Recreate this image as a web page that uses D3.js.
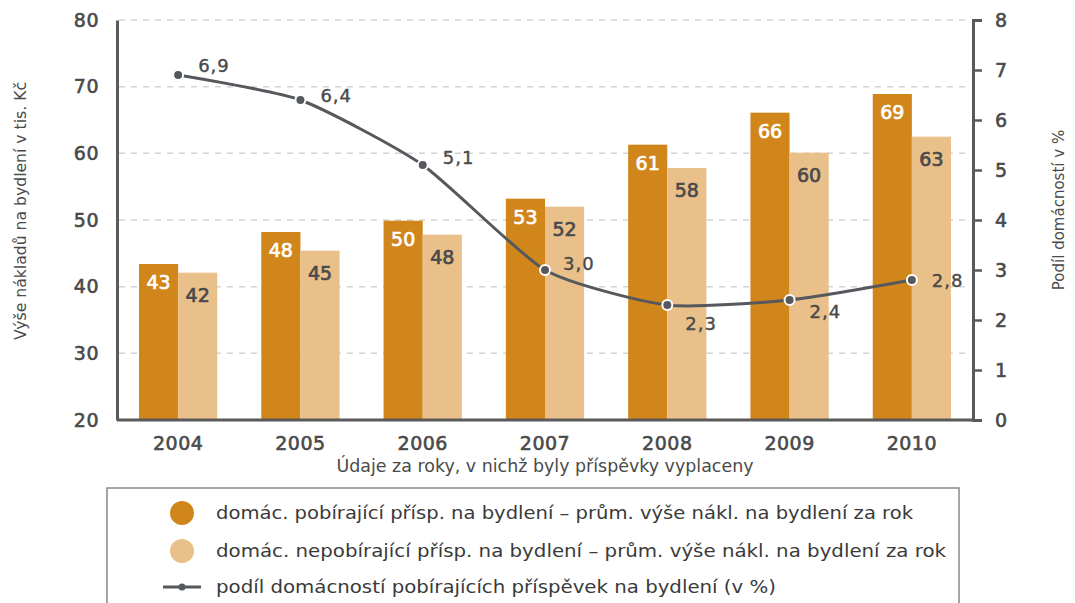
<!DOCTYPE html>
<html>
<head>
<meta charset="utf-8">
<script src="https://cdn.jsdelivr.net/npm/d3@7"></script>
<style>
  body { margin: 0; background: #fff; }
  svg { font-family: "DejaVu Sans", sans-serif; }
</style>
</head>
<body>
<div id="chart"></div>
<script>
// data
var years = ["2004", "2005", "2006", "2007", "2008", "2009", "2010"];
var pobirajici = [43.4, 48.2, 49.9, 53.2, 61.3, 66.1, 68.9];
var nepobirajici = [42.1, 45.4, 47.8, 52.0, 57.8, 60.1, 62.5];
var podil = [6.9, 6.4, 5.1, 3.0, 2.3, 2.4, 2.8];
var podilLabels = ["6,9", "6,4", "5,1", "3,0", "2,3", "2,4", "2,8"];
var leftTicks = [20, 30, 40, 50, 60, 70, 80];
var rightTicks = [0, 1, 2, 3, 4, 5, 6, 7, 8];
var legendItems = [
    "domác. pobírající přísp. na bydlení – prům. výše nákl. na bydlení za rok",
    "domác. nepobírající přísp. na bydlení – prům. výše nákl. na bydlení za rok",
    "podíl domácností pobírajících příspěvek na bydlení (v %)"
];

var W = 1075, H = 603;
var plot = {left: 117, right: 973, top: 20, bottom: 420};
var darkCol = "#d0861b", lightCol = "#e9c08a", lineCol = "#55585c", axisCol = "#5a5a5a";
var textCol = "#4a4a4a";

var svg = d3.select("#chart").append("svg")
    .attr("width", W).attr("height", H);

var x = d3.scaleBand().domain(years).range([plot.left, plot.right]).paddingInner(0.36).paddingOuter(0.18);
var xs = d3.scaleBand().domain(["a", "b"]).range([0, x.bandwidth()]);
var yL = d3.scaleLinear().domain([20, 80]).range([plot.bottom, plot.top]);
var yR = d3.scaleLinear().domain([0, 8]).range([plot.bottom, plot.top]);

// dashed gridlines
svg.append("g").selectAll("line")
    .data(leftTicks.slice(1))
    .enter().append("line")
    .attr("x1", plot.left + 2).attr("x2", plot.right - 8)
    .attr("y1", d => yL(d)).attr("y2", d => yL(d))
    .attr("stroke", "#d4d4d4").attr("stroke-width", 1.5)
    .attr("stroke-dasharray", "6,6");

// bars
var groups = svg.append("g").selectAll("g")
    .data(years)
    .enter().append("g")
    .attr("transform", d => `translate(${x(d)},0)`);

groups.append("rect")
    .attr("x", xs("a")).attr("width", xs.bandwidth())
    .attr("y", (d, i) => yL(pobirajici[i]))
    .attr("height", (d, i) => yL(20) - yL(pobirajici[i]))
    .attr("fill", darkCol);

groups.append("rect")
    .attr("x", xs("b")).attr("width", xs.bandwidth())
    .attr("y", (d, i) => yL(nepobirajici[i]))
    .attr("height", (d, i) => yL(20) - yL(nepobirajici[i]))
    .attr("fill", lightCol);

groups.append("text")
    .attr("x", xs("a") + xs.bandwidth() / 2)
    .attr("y", (d, i) => yL(pobirajici[i]) + 25)
    .attr("text-anchor", "middle")
    .style("font-size", "19px")
    .style("fill", "#fff").style("stroke", "#fff").style("stroke-width", 0.7)
    .text((d, i) => Math.round(pobirajici[i]));

groups.append("text")
    .attr("x", xs("b") + xs.bandwidth() / 2)
    .attr("y", (d, i) => yL(nepobirajici[i]) + 29)
    .attr("text-anchor", "middle")
    .style("font-size", "19px")
    .style("fill", textCol).style("stroke", textCol).style("stroke-width", 0.7)
    .text((d, i) => Math.round(nepobirajici[i]));

// axes
var axisL = svg.append("g")
    .attr("transform", `translate(${plot.left},0)`)
    .call(d3.axisLeft(yL).tickValues(leftTicks).tickSize(0).tickPadding(18));
var axisR = svg.append("g")
    .attr("transform", `translate(${plot.right},0)`)
    .call(d3.axisRight(yR).tickValues(rightTicks).tickSize(9).tickPadding(13));
var axisB = svg.append("g")
    .attr("transform", `translate(0,${plot.bottom})`)
    .call(d3.axisBottom(x).tickSize(0).tickPadding(14));

[axisL, axisR, axisB].forEach(function (a) {
    a.select(".domain").attr("stroke", axisCol).attr("stroke-width", 3);
    a.selectAll(".tick line").attr("stroke", axisCol).attr("stroke-width", 2.5);
    a.selectAll(".tick text").style("font-size", "19px").style("fill", textCol)
        .style("stroke", textCol).style("stroke-width", 0.6)
        .style("letter-spacing", "0.5px")
        .style("font-family", "'DejaVu Sans', sans-serif");
});
axisB.select(".domain").attr("d", `M${plot.left},0H${plot.right}`);
axisB.selectAll(".tick text").attr("dy", "0.85em");

// line series
var line = d3.line()
    .x((d, i) => x(years[i]) + x.bandwidth() / 2)
    .y(d => yR(d))
    .curve(d3.curveCardinal.tension(0.4));

svg.append("path")
    .datum(podil)
    .attr("d", line)
    .attr("fill", "none")
    .attr("stroke", lineCol)
    .attr("stroke-width", 3);

svg.append("g").selectAll("circle")
    .data(podil)
    .enter().append("circle")
    .attr("cx", (d, i) => x(years[i]) + x.bandwidth() / 2)
    .attr("cy", d => yR(d))
    .attr("r", 5)
    .attr("fill", lineCol)
    .attr("stroke", "#fff").attr("stroke-width", 2);

var labelOff = [[20, -3], [20, 2], [20, -1], [18, 0], [18, 25], [20, 18], [20, 7]];
svg.append("g").selectAll("text")
    .data(podil)
    .enter().append("text")
    .attr("x", (d, i) => x(years[i]) + x.bandwidth() / 2 + labelOff[i][0])
    .attr("y", (d, i) => yR(d) + labelOff[i][1])
    .style("font-size", "18px").style("fill", textCol)
    .style("stroke", textCol).style("stroke-width", 0.4)
    .style("letter-spacing", "1px")
    .text((d, i) => podilLabels[i]);

// axis titles
svg.append("text")
    .attr("transform", "translate(26,211) rotate(-90)")
    .attr("text-anchor", "middle")
    .style("font-size", "15px").style("fill", textCol)
    .attr("textLength", 258).attr("lengthAdjust", "spacingAndGlyphs")
    .text("Výše nákladů na bydlení v tis. Kč");

svg.append("text")
    .attr("transform", "translate(1064,210) rotate(-90)")
    .attr("text-anchor", "middle")
    .style("font-size", "15px").style("fill", textCol)
    .text("Podíl domácností v %");

svg.append("text")
    .attr("x", 545).attr("y", 472)
    .attr("text-anchor", "middle")
    .style("font-size", "17px").style("fill", textCol)
    .attr("textLength", 417).attr("lengthAdjust", "spacingAndGlyphs")
    .text("Údaje za roky, v nichž byly příspěvky vyplaceny");

// legend
svg.append("rect")
    .attr("x", 107).attr("y", 488).attr("width", 852).attr("height", 130)
    .attr("fill", "none").attr("stroke", "#888").attr("stroke-width", 1.5);

var legendY = [513, 551, 587];
var legendW = [697, 730, 560];
svg.append("circle").attr("cx", 182).attr("cy", legendY[0]).attr("r", 12).attr("fill", darkCol);
svg.append("circle").attr("cx", 182).attr("cy", legendY[1]).attr("r", 12).attr("fill", lightCol);
svg.append("line").attr("x1", 163).attr("x2", 201).attr("y1", legendY[2]).attr("y2", legendY[2])
    .attr("stroke", lineCol).attr("stroke-width", 3);
svg.append("circle").attr("cx", 182).attr("cy", legendY[2]).attr("r", 3.5).attr("fill", lineCol);

svg.append("g").selectAll("text")
    .data(legendItems)
    .enter().append("text")
    .attr("x", 216)
    .attr("y", (d, i) => legendY[i])
    .attr("dy", "0.35em")
    .attr("textLength", (d, i) => legendW[i]).attr("lengthAdjust", "spacingAndGlyphs")
    .style("font-size", "18px").style("fill", "#3a3a3a")
    .text(d => d);
</script>
</body>
</html>
